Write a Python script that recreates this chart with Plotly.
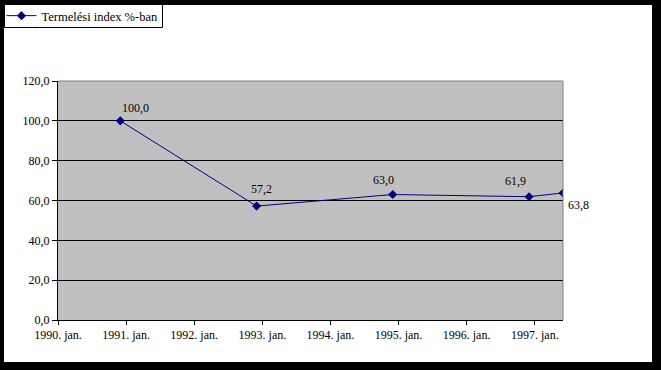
import plotly.graph_objects as go

# Data
dates = ["1990-12-01", "1992-12-01", "1994-12-01", "1996-12-01", "1997-06-01"]
values = [100.0, 57.2, 63.0, 61.9, 63.8]
series_name = "Termelési index %-ban"
tick_dates = ["1990-01-01", "1991-01-01", "1992-01-01", "1993-01-01",
              "1994-01-01", "1995-01-01", "1996-01-01", "1997-01-01"]
tick_labels = ["1990. jan.", "1991. jan.", "1992. jan.", "1993. jan.",
               "1994. jan.", "1995. jan.", "1996. jan.", "1997. jan."]
y_ticks = [0, 20, 40, 60, 80, 100, 120]

# label offsets (style only)
label_shift = [(15, 13), (5, 17), (-9, 15), (-14, 16), (15, -12)]

FONT = "Liberation Serif"
W, H = 661, 370
L, R, T, B = 58, 98, 81, 50
pw, ph = W - L - R, H - T - B

def px(x):
    return (x - L) / pw

def py(y):
    return (H - B - y) / ph

fig = go.Figure()
fig.add_trace(go.Scatter(
    x=dates, y=values, mode="lines+markers", name=series_name,
    line=dict(color="#000080", width=1),
    marker=dict(symbol="diamond", size=7, color="#000080"),
    showlegend=True,
))

for d, v, (dx, dy) in zip(dates, values, label_shift):
    fig.add_annotation(x=d, y=v, text=f"{v:.1f}".replace(".", ","),
                       showarrow=False, xshift=dx, yshift=dy,
                       font=dict(family=FONT, size=12, color="black"))

def frame(x0, x1, y0, y1):
    return dict(type="rect", xref="paper", yref="paper", layer="below",
                x0=px(x0), x1=px(x1), y0=py(y1), y1=py(y0),
                fillcolor="black", line=dict(width=0))

shapes = [
    frame(0, 4, 0, H), frame(0, W, 0, 5),
    frame(652, W, 0, H), frame(0, W, 362, H),
    # legend box
    dict(type="rect", xref="paper", yref="paper", layer="below",
         x0=px(4.5), x1=px(162.5), y0=py(27.5), y1=py(4.5),
         fillcolor="white", line=dict(color="black", width=1)),
    # gray top and right border of plot area
    dict(type="line", xref="paper", yref="paper", layer="above",
         x0=0, x1=1, y0=1, y1=1, line=dict(color="#808080", width=1)),
    dict(type="line", xref="paper", yref="paper", layer="above",
         x0=1, x1=1, y0=0, y1=1, line=dict(color="#808080", width=1)),
]

fig.update_layout(
    width=W, height=H,
    margin=dict(l=L, r=R, t=T, b=B, pad=0, autoexpand=False),
    paper_bgcolor="white",
    plot_bgcolor="#C0C0C0",
    separators=", ",
    font=dict(family=FONT, size=12, color="black"),
    shapes=shapes,
    showlegend=True,
    legend=dict(x=px(1.5), y=py(1), xanchor="left", yanchor="top",
                bgcolor="rgba(0,0,0,0)", borderwidth=0,
                font=dict(family=FONT, size=12.5, color="black"),
                itemwidth=30),
    xaxis=dict(type="date", range=["1990-01-01", "1997-06-01"],
               tickvals=tick_dates, ticktext=tick_labels,
               showgrid=False, zeroline=False,
               showline=True, linecolor="black", linewidth=1,
               ticks="outside", ticklen=4, tickcolor="black",
               tickfont=dict(family=FONT, size=12, color="black")),
    yaxis=dict(range=[0, 120], tickvals=y_ticks, tickformat=".1f",
               showgrid=True, gridcolor="black", gridwidth=1,
               zeroline=False,
               showline=True, linecolor="black", linewidth=1,
               ticks="outside", ticklen=5, tickcolor="black",
               tickfont=dict(family=FONT, size=12, color="black")),
)

fig.write_html("out.html", config={"displayModeBar": False},
               post_script="document.body.style.margin='0';")
